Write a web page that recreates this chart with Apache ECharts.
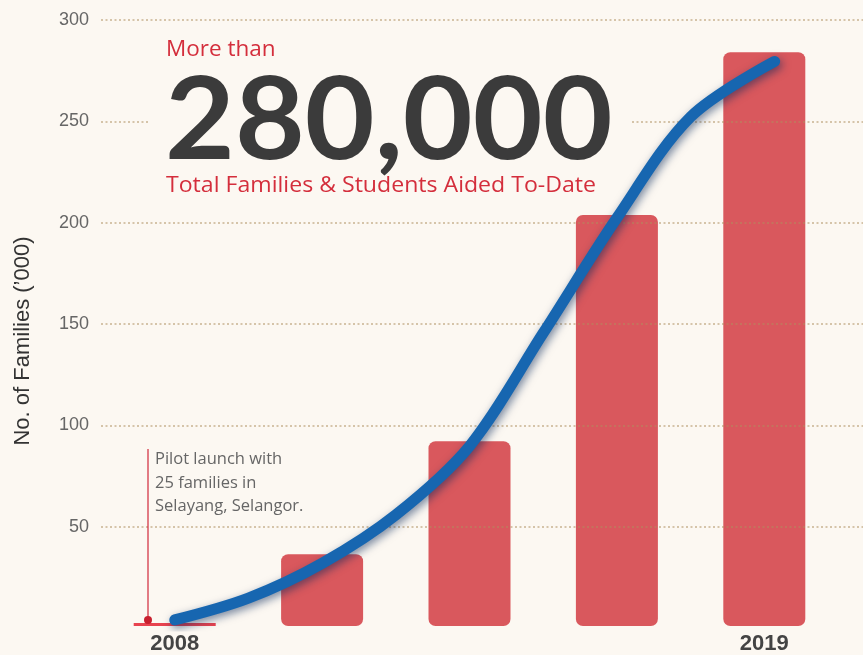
<!DOCTYPE html>
<html lang="en">
<head>
    <meta charset="utf-8">
    <title>Total Families Aided</title>
    <script src="https://cdn.jsdelivr.net/npm/echarts@6/dist/echarts.min.js"></script>
</head>
<body style="margin:0; background:#fcf8f2;">
<div id="main" style="width: 863px; height: 655px;"></div>

<script type="text/javascript">
    // data (thousands of families)
    const years = ['2008', '', '', '', '2019'];
    const barValues = [0.025, 35.5, 91.5, 203.5, 284];
    // growth curve (x = bar slot, y = value)
    const trendX = [0, 0.5, 1, 1.5, 2, 2.5, 3, 3.5, 4.07];
    const trendY = [3, 13.8, 31, 55, 89, 145, 202, 252, 279.5];
    const yTicks = [0, 50, 100, 150, 200, 250, 300];

    const bg = '#fcf8f2';
    const red = '#d42e3c';

    const myChart = echarts.init(document.getElementById('main'));

    const option = {
        backgroundColor: bg,
        grid: [
            {left: 101, right: 0, top: 20, bottom: 27},   // dotted gridlines, full width
            {left: 101, right: 25, top: 20, bottom: 27}   // bars + curve
        ],
        xAxis: [
            {gridIndex: 0, type: 'value', min: 0, max: 1, show: false},
            {
                gridIndex: 1,
                type: 'category',
                data: years,
                axisLine: {show: false},
                axisTick: {show: false},
                axisLabel: {
                    margin: 7,
                    color: '#444',
                    fontSize: 22,
                    fontWeight: 'bold',
                    fontFamily: 'Liberation Sans, Arial, sans-serif',
                    formatter: (v, i) => years[i]
                }
            },
            {gridIndex: 1, type: 'value', min: -0.5, max: 4.5, show: false}
        ],
        yAxis: [
            {
                gridIndex: 0,
                type: 'value',
                min: yTicks[0],
                max: yTicks[yTicks.length - 1],
                interval: 50,
                z: 3,
                axisLine: {show: false},
                axisTick: {show: false},
                axisLabel: {
                    margin: 12,
                    color: '#666',
                    fontSize: 18,
                    fontFamily: 'Liberation Sans, Arial, sans-serif',
                    formatter: v => (v === 0 ? '' : v)
                },
                splitLine: {
                    showMinLine: false,
                    lineStyle: {color: 'rgba(175,145,95,0.65)', width: 1.5, type: [2, 2.5]}
                }
            },
            {
                gridIndex: 1,
                type: 'value',
                min: yTicks[0],
                max: yTicks[yTicks.length - 1],
                show: false
            }
        ],
        series: [
            {
                type: 'bar',
                xAxisIndex: 1,
                yAxisIndex: 1,
                barWidth: 82,
                barMinHeight: 3,
                z: 2,
                itemStyle: {color: '#d9585d', borderRadius: 7},
                data: barValues.map((v, i) => i === 0
                    ? {value: v, itemStyle: {color: '#e8434f', borderRadius: 0}}
                    : v)
            },
            {
                type: 'line',
                xAxisIndex: 2,
                yAxisIndex: 1,
                smooth: 0.33,
                symbol: 'none',
                z: 6,
                lineStyle: {
                    color: '#1766b0',
                    width: 11,
                    cap: 'round',
                    shadowColor: 'rgba(10,40,90,0.55)',
                    shadowBlur: 8,
                    shadowOffsetX: 2,
                    shadowOffsetY: 3
                },
                data: trendX.map((x, i) => [x, trendY[i]])
            }
        ],
        graphic: [
            // plate behind headline hides the gridline
            {type: 'rect', left: 148, top: 36, z: 4, shape: {width: 484, height: 168}, style: {fill: bg}},
            {type: 'text', left: 166, top: 38, z: 7,
                style: {text: 'More than', fill: red, font: '22.5px "Open Sans", sans-serif'}},
            {type: 'text', x: 165, y: 65, z: 7, scaleX: 1.057,
                style: {text: '280,000', fill: '#3b3b3b', font: 'bold 114px Lato, sans-serif'}},
            {type: 'text', x: 166, y: 175, z: 7, scaleX: 1.05,
                style: {text: 'Total Families & Students Aided To-Date', fill: red, font: '22px "Open Sans", sans-serif'}},
            // pilot annotation
            {type: 'line', z: 7, shape: {x1: 148, y1: 449, x2: 148, y2: 620},
                style: {stroke: '#d0283a', lineWidth: 1.2}},
            {type: 'circle', z: 7, shape: {cx: 148, cy: 620, r: 4}, style: {fill: '#c8202f'}},
            {type: 'text', left: 155, top: 448, z: 7,
                style: {
                    text: 'Pilot launch with\n25 families in\nSelayang, Selangor.',
                    fill: '#666', font: '16.5px "Open Sans", sans-serif', lineHeight: 23.5
                }},
            // y axis title
            {type: 'text', z: 7, x: 23, y: 341, rotation: Math.PI / 2,
                style: {
                    text: 'No. of Families (\u2019000)', fill: '#333',
                    font: '22px Liberation Sans, Arial, sans-serif',
                    align: 'center', verticalAlign: 'middle'
                }}
        ]
    };

    myChart.setOption(option);
</script>
</body>
</html>
